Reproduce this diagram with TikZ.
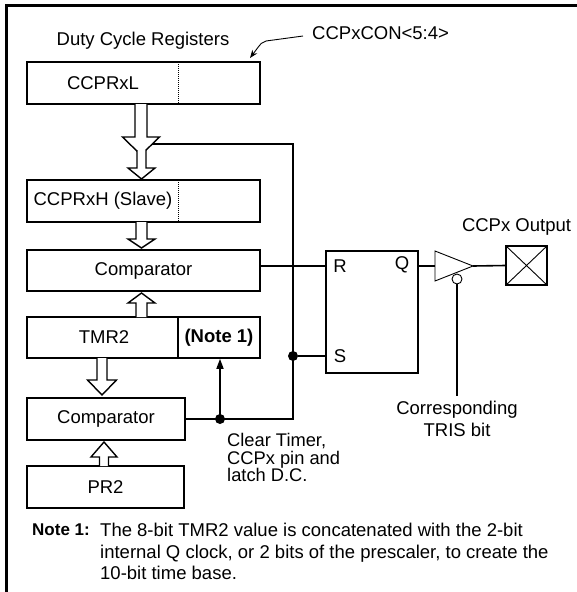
\documentclass[tikz,border=0pt]{standalone}
\usepackage{fontspec}
\setmainfont{Liberation Sans}
\usetikzlibrary{arrows.meta}

\tikzset{
  regbox/.style={draw, line width=1.6pt, inner sep=0pt, outer sep=0pt, minimum height=42pt},
  lbl/.style={font=\fontsize{18.5}{21}\selectfont, inner sep=0pt},
  smalllbl/.style={font=\fontsize{18.3}{17.6}\selectfont, inner sep=0pt, align=left},
  notelbl/.style={font=\fontsize{18.5}{21.6}\selectfont, inner sep=0pt, align=left},
  wire/.style={line width=1.6pt},
  fatarrow/.style={draw, line width=1.4pt, fill=white, line join=miter},
  jdot/.style={circle, fill, inner sep=0pt, minimum size=10pt},
}

% hollow bus arrow: x, shaft start, head base, tip, shaft half width, head half width
\newcommand{\busarrow}[6]{%
  \draw[fatarrow] (#1-#5,#2) -- (#1-#5,#3) -- (#1-#6,#3) -- (#1,#4) -- (#1+#6,#3) -- (#1+#5,#3) -- (#1+#5,#2);
}

\begin{document}
\begin{tikzpicture}[x=1pt,y=1pt,yscale=-1,xscale=1]
\useasboundingbox (0,0) rectangle (577,592);

%Frame
\draw [line width=3pt] (6,600) -- (6,5) -- (590,5);

%Registers
\node [lbl] (duty) at (143,41) {Duty Cycle Registers};
\node [regbox, minimum width=233pt] (ccprl) at (143.5,83) {};
\node [lbl] (ccprl text) at (103,83) {CCPRxL};
\draw [densely dotted, line width=1pt] (178,62) -- (178,104);

\node [regbox, minimum width=233pt] (ccprh) at (143.5,201) {};
\node [lbl] (ccprh text) at (103,201) {CCPRxH (Slave)};
\draw [densely dotted, line width=1pt] (178,180) -- (178,222);

\node [regbox, minimum width=233pt, minimum height=41pt] (cmpa) at (143.5,270.5) {};
\node [lbl] (cmpa text) at (143.5,270.5) {Comparator};

\node [regbox, minimum width=233pt, minimum height=41pt] (tmr) at (143.5,337.5) {};
\node [lbl] (tmr text) at (104,337.5) {TMR2};
\node [lbl, font=\fontsize{18.5}{21}\selectfont\bfseries] (note ref) at (219,337.5) {(Note 1)};
\draw [line width=1.6pt] (178,317) -- (178,358);

\node [regbox, minimum width=158pt] (cmpb) at (106,419) {};
\node [lbl] (cmpb text) at (106,419) {Comparator};

\node [regbox, minimum width=157pt] (pr) at (105.5,487) {};
\node [lbl] (pr text) at (105.5,487) {PR2};

%Bus arrows
\busarrow{141}{104}{137}{155}{6}{18.5}
\busarrow{141.5}{150}{168}{179}{4.5}{13.5}
\busarrow{141.5}{222}{239}{248}{5.5}{13.5}
\busarrow{141.5}{317}{303}{293}{5.5}{13.5}
\busarrow{102}{358}{380}{395}{5}{14.5}
\busarrow{104}{466}{457}{442}{4.5}{13}

%Flip-flop
\node [regbox, minimum width=92pt, minimum height=122pt] (ff) at (372,312) {};
\node [lbl] (ff r) at (340,266) {R};
\node [lbl] (ff q) at (402,265) {Q};
\node [lbl] (ff s) at (340,356) {S};

%Wires
\coordinate (bus top) at (293,144);
\coordinate (head edge) at (152.3,144);
\coordinate (bus low) at (293,419);
\coordinate (r in) at (326,266);
\coordinate (s in) at (326,356);
\node [jdot] (sdot) at (293,356) {};
\node [jdot] (cdot) at (220,419) {};
\draw [wire] (head edge) -- (bus top) -- (bus low) -- (cmpb.east |- bus low);
\draw [wire] (cmpa.east |- r in) -- (r in);
\draw [wire] (sdot) -- (s in);
\draw [wire, -{Triangle[length=10pt,width=7pt]}] (cdot.center) -- (220,358.8);

%Output buffer
\coordinate (q out) at (418,266);
\coordinate (buf in) at (435,266);
\coordinate (buf out) at (473,266);
\draw [line width=0.9pt] (435,251) -- (buf out) -- (435,281) -- cycle;
\node [circle, draw, fill=white, line width=0.9pt, inner sep=0pt, minimum size=10pt] (bub) at (457,279) {};
\draw [wire] (q out) -- (buf in);
\node [draw, line width=1.2pt, inner sep=0pt, minimum width=41pt, minimum height=39pt] (pin) at (526.5,265.5) {};
\draw [line width=0.9pt] (pin.north west) -- (pin.south east) (pin.north east) -- (pin.south west);
\draw [wire] (buf out) -- (pin.west);
\node [lbl] (pin text) at (516.5,227) {CCPx Output};
\node [lbl, align=center, font=\fontsize{18.5}{22}\selectfont] (tris) at (457,419) {Corresponding\\TRIS bit};
\draw [wire] (bub.south) -- (457,396);

%Leader
\node [lbl, anchor=west] (con) at (312,33) {CCPxCON<5:4>};
\draw [line width=0.9pt, -{Stealth[length=8pt,width=6pt]}] (303,36) -- (266,41) .. controls (262,42) .. (250,58);

%Texts
\node [smalllbl, anchor=north west] (clear) at (227,433) {Clear Timer,\\CCPx pin and\\latch D.C.};
\node [notelbl, anchor=north west, font=\fontsize{17}{21.6}\selectfont\bfseries] (note key) at (32,524) {Note 1:};
\node [notelbl, anchor=north west] (note) at (100,523) {The 8-bit TMR2 value is concatenated with the 2-bit\\internal Q clock, or 2 bits of the prescaler, to create the\\10-bit time base.};

\end{tikzpicture}
\end{document}
